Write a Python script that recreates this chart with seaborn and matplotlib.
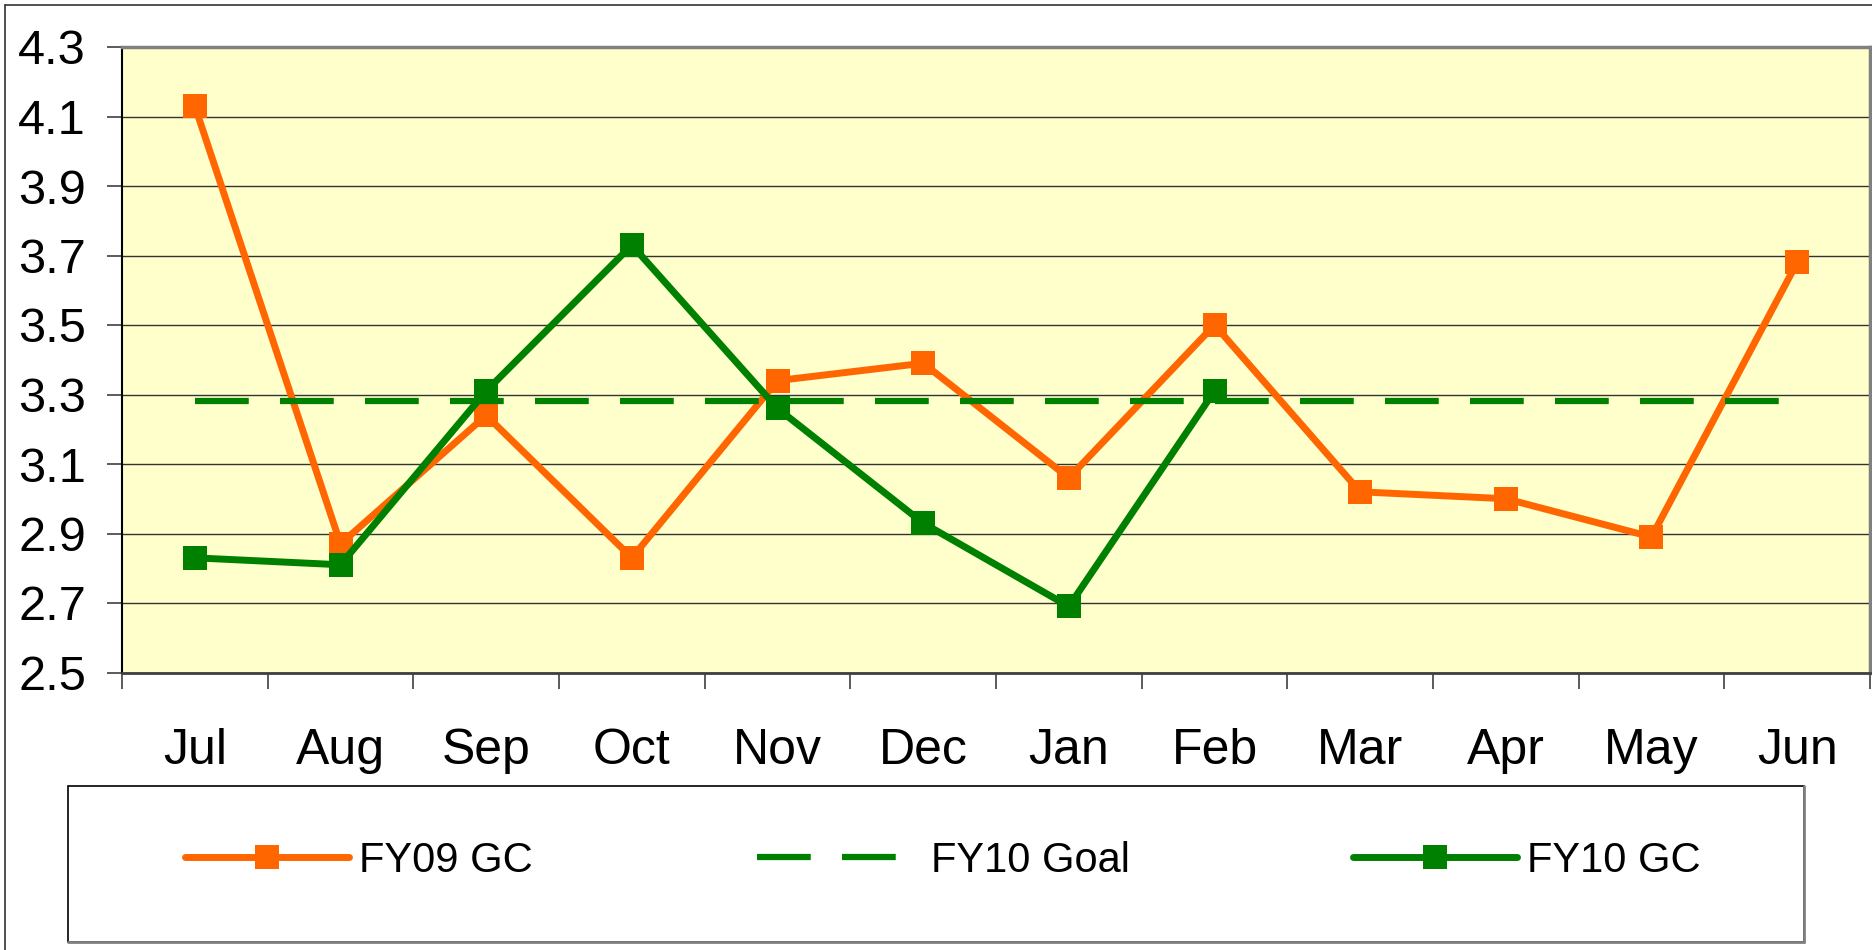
import numpy as np
import pandas as pd
import seaborn as sns
import matplotlib.pyplot as plt
from matplotlib.patches import Rectangle
from matplotlib.lines import Line2D

# chart data
months = ["Jul", "Aug", "Sep", "Oct", "Nov", "Dec", "Jan", "Feb", "Mar", "Apr", "May", "Jun"]
fy09_gc = [4.13, 2.87, 3.24, 2.83, 3.34, 3.39, 3.06, 3.50, 3.02, 3.00, 2.89, 3.68]
fy10_goal = [3.28] * 12
fy10_gc = [2.83, 2.81, 3.31, 3.73, 3.26, 2.93, 2.69, 3.31]
y_ticks = [2.5, 2.7, 2.9, 3.1, 3.3, 3.5, 3.7, 3.9, 4.1, 4.3]

sns.set_style("white")
plt.rcParams["font.family"] = ["Liberation Sans", "DejaVu Sans"]
plt.rcParams["text.color"] = "black"
plt.rcParams["xtick.labelcolor"] = "black"
plt.rcParams["ytick.labelcolor"] = "black"

W, H = 1872, 950
fig = plt.figure(figsize=(W / 100, H / 100), dpi=100)
ax = fig.add_axes([122 / W, 1 - 672.5 / H, (1870 - 122) / W, (672.5 - 47) / H])
ax.set_facecolor("#FFFFCC")

orange = "#FF6600"
green = "#008000"

df09 = pd.DataFrame({"pos": np.arange(len(fy09_gc)), "value": fy09_gc})
dfgoal = pd.DataFrame({"pos": np.arange(len(fy10_goal)), "value": fy10_goal})
df10 = pd.DataFrame({"pos": np.arange(len(fy10_gc)), "value": fy10_gc})

sns.lineplot(data=df09, x="pos", y="value", ax=ax, color=orange, lw=5,
             marker="s", ms=17, mec=orange, mfc=orange, mew=0,
             label="FY09 GC", legend=False, zorder=3)
sns.lineplot(data=dfgoal, x="pos", y="value", ax=ax, color=green, lw=4.5,
             linestyle=(0, (8.6, 5.0)), label="FY10 Goal", legend=False, zorder=4)
sns.lineplot(data=df10, x="pos", y="value", ax=ax, color=green, lw=5,
             marker="s", ms=17, mec=green, mfc=green, mew=0,
             label="FY10 GC", legend=False, zorder=5)

ax.set_xlim(-0.5, len(months) - 0.5)
ax.set_ylim(2.5, 4.3)
ax.set_xlabel("")
ax.set_ylabel("")

ax.set_xticks(np.arange(len(months)))
ax.set_xticklabels(months, fontsize=36, color="black")
ax.set_xticks(np.arange(-0.5, len(months)), minor=True)
ax.tick_params(axis="x", which="major", length=0, pad=40)
ax.tick_params(axis="x", which="minor", length=11.5, width=1.2, color="#404040",
               direction="out", bottom=True)

ax.set_yticks(y_ticks)
ax.set_yticklabels([f"{v:.1f}" for v in y_ticks], fontsize=35, color="black")
ax.tick_params(axis="y", length=11, width=1.2, color="#404040", direction="out",
               left=True, pad=15)

ax.yaxis.grid(True, color="#333333", lw=1.0)
ax.xaxis.grid(False)
ax.set_axisbelow(True)

for side in ["top", "right"]:
    ax.spines[side].set_color("#808080")
    ax.spines[side].set_linewidth(2.5)
ax.spines["left"].set_color("#000000")
ax.spines["left"].set_linewidth(1.5)
ax.spines["bottom"].set_color("#404040")
ax.spines["bottom"].set_linewidth(2)

# outer chart border (left and top visible)
fig.add_artist(Line2D([4.5 / W, 4.5 / W], [0, 1 - 4.5 / H], color="#333333", lw=1.2))
fig.add_artist(Line2D([4.5 / W, 1], [1 - 4.5 / H, 1 - 4.5 / H], color="#333333", lw=1.2))

# legend box
fig.add_artist(Rectangle((68 / W, 1 - 942 / H), (1804 - 68) / W, (942 - 786) / H,
                         transform=fig.transFigure, fill=False, ec="#000000", lw=1.2))
fig.add_artist(Line2D([1804 / W, 1804 / W], [1 - 942 / H, 1 - 786 / H], color="#808080", lw=2))
fig.add_artist(Line2D([68 / W, 1804 / W], [1 - 942 / H, 1 - 942 / H], color="#808080", lw=2))

handles, labels = ax.get_legend_handles_labels()
leg = fig.legend(handles, labels, loc="center", ncol=3, mode="expand",
                 bbox_to_anchor=(185 / W, 1 - 861 / H - 0.02, (1701 - 185) / W, 0.04),
                 frameon=False, borderpad=0, borderaxespad=0, fontsize=30,
                 handlelength=3.94, handletextpad=0.24)
for t in leg.get_texts():
    t.set_color("black")

fig.savefig("out.png", dpi=100)
